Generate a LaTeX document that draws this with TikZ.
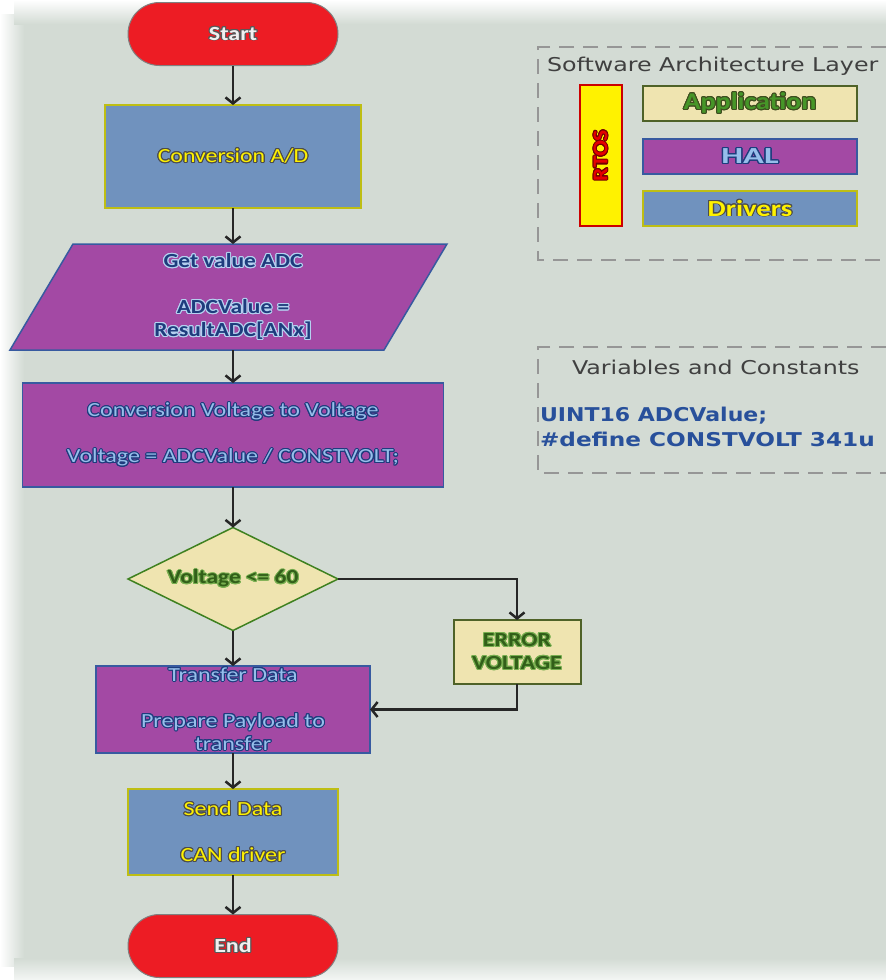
\documentclass[tikz,border=0pt]{standalone}
\usepackage{fontspec}
\usepackage{graphicx}
\setmainfont{Carlito}
\newfontfamily\vfont{DejaVu Sans}
\usepackage[copies]{contour}
\contournumber{16}
\contourlength{0.9pt}
\usetikzlibrary{shapes.geometric,shapes.misc,arrows.meta}

\definecolor{bgpanel}{RGB}{211,219,212}
\definecolor{termred}{RGB}{237,28,36}
\definecolor{steel}{RGB}{112,146,190}
\definecolor{plum}{RGB}{163,73,164}
\definecolor{khaki}{RGB}{239,228,176}
\definecolor{lemon}{RGB}{255,242,0}
\definecolor{lineblue}{RGB}{55,90,160}
\definecolor{olivedge}{RGB}{79,98,40}
\definecolor{yedge}{RGB}{190,190,20}
\definecolor{txtnavy}{RGB}{30,60,125}
\definecolor{txtsky}{RGB}{150,190,235}
\definecolor{txtgreen}{RGB}{50,95,25}
\definecolor{glowgreen}{RGB}{120,175,80}
\definecolor{appgreen}{RGB}{70,150,40}
\definecolor{codeblue}{RGB}{40,80,155}
\definecolor{dashgrey}{RGB}{150,150,150}

% outlined text, and horizontally widened text
\newcommand{\ol}[2]{\contour{#1}{#2}}
\newcommand{\wide}[2][1.2]{\scalebox{#1}[1]{#2}}

\begin{document}
\begin{tikzpicture}[x=1pt,y=-1pt,
  every node/.style={inner sep=0pt, outer sep=0pt},
  terminal/.style={rounded rectangle, fill=termred, draw=gray, line width=1pt,
    minimum width=210pt, minimum height=63pt},
  bluebox/.style={rectangle, fill=steel, draw=yedge, line width=2pt},
  plumbox/.style={rectangle, fill=plum, draw=lineblue, line width=1.5pt},
  khakibox/.style={rectangle, fill=khaki, draw=olivedge, line width=2pt},
  flowtext/.style={align=center, font=\fontsize{20}{23}\selectfont},
  arr/.style={draw=black!85, line width=2.5pt,
    -{Straight Barb[length=6pt,width=15pt,line width=2.5pt]}},
  dashframe/.style={draw=dashgrey, line width=1.5pt, dash pattern=on 15pt off 9pt},
]
\useasboundingbox (0,0) rectangle (886,980);

% panel with soft edges
\fill[white] (0,0) rectangle (886,980);
\fill[bgpanel] (14,14) rectangle (886,966);
\shade[left color=white, right color=bgpanel] (0,14) rectangle (24,966);
\shade[top color=white, bottom color=bgpanel] (14,0) rectangle (886,24);
\shade[top color=bgpanel, bottom color=white!75!bgpanel] (14,958) rectangle (886,980);

% ---------- main flow ----------
\node[terminal] (start) at (233,34)
  {\fontsize{20}{22}\selectfont\bfseries\color{white!88!gray}\wide{\ol{gray!70!black}{Start}}};

\node[bluebox, minimum width=256pt, minimum height=103pt, flowtext, text=lemon] (conv) at (233,156.5)
  {\wide[1.19]{\ol{black!70}{Conversion A/D}}};

% parallelogram
\filldraw[fill=plum, draw=lineblue, line width=1.5pt]
  (73,244) -- (447,244) -- (384,350) -- (10,350) -- cycle;
\node[minimum width=300pt, minimum height=106pt, flowtext, text=txtnavy] (getadc) at (233,297)
  {\bfseries\wide[1.17]{\ol{txtsky!70!white}{Get value ADC}}\\[23pt]
   \bfseries\wide[1.17]{\ol{txtsky!70!white}{ADCValue =}}\\
   \bfseries\wide[1.17]{\ol{txtsky!70!white}{ResultADC[ANx]}}};

\node[plumbox, minimum width=421pt, minimum height=104pt, flowtext, text=txtsky] (volt) at (233,435)
  {\wide{\ol{txtnavy}{Conversion Voltage to Voltage}}\\[23pt]
   \wide{\ol{txtnavy}{Voltage = ADCValue / CONSTVOLT;}}};

\node[diamond, fill=khaki, draw=olivedge!80!green, line width=1.5pt,
      minimum width=210pt, minimum height=103pt] (check) at (233,579) {};
\node[flowtext, text=txtgreen] (checktext) at (check.center)
  {\bfseries\wide[1.17]{\ol{glowgreen}{Voltage <= 60}}};

\node[khakibox, minimum width=127pt, minimum height=64pt, flowtext, text=txtgreen] (err) at (517,652)
  {\bfseries\wide{\ol{glowgreen}{ERROR}}\\ \bfseries\wide{\ol{glowgreen}{VOLTAGE}}};

\node[plumbox, minimum width=274pt, minimum height=87pt, flowtext, text=txtsky] (xfer) at (233,709.5)
  {\wide{\ol{txtnavy}{Transfer Data}}\\[23pt]
   \wide{\ol{txtnavy}{Prepare Payload to}}\\
   \wide{\ol{txtnavy}{transfer}}};

\node[bluebox, minimum width=210pt, minimum height=86pt, flowtext, text=lemon] (send) at (233,832)
  {\wide{\ol{black!70}{Send Data}}\\[23pt]\wide{\ol{black!70}{CAN driver}}};

\node[terminal] (finish) at (233,946)
  {\fontsize{20}{22}\selectfont\bfseries\color{white!88!gray}\wide{\ol{gray!70!black}{End}}};

% connectors
\draw[arr] (start) -- (conv);
\draw[arr] (conv) -- (getadc);
\draw[arr] (getadc) -- (volt);
\draw[arr] (volt) -- (check);
\draw[arr] (check) -- (xfer);
\draw[arr] (check.east) -| (err.north);
\draw[arr] (err.south) |- (xfer.east);
\draw[arr] (xfer) -- (send);
\draw[arr] (send) -- (finish);

% ---------- software architecture layer ----------
\coordinate (swtl) at (538,47);
\coordinate (swbl) at (538,260);
\draw[dashframe] (910,47) -- (swtl) -- (swbl) -- (910,260);
\node[anchor=west, text=black!75, font=\vfont\fontsize{19}{22}\selectfont] (swtitle) at (547,66)
  {\wide[1.25]{Software Architecture Layer}};

\node[rectangle, fill=lemon, draw=red!80!black, line width=2pt,
      minimum width=42pt, minimum height=141pt] (rtos) at (601,155.5) {};
\node[rotate=90, text=red!90!black, font=\fontsize{21}{24}\selectfont\bfseries] (rtostext) at (rtos.center)
  {\wide[1.12]{\ol{red!45!black}{RTOS}}};

\node[khakibox, minimum width=214pt, minimum height=35pt, text=appgreen,
      font=\fontsize{24}{26}\selectfont\bfseries] (app) at (750,103.5)
  {\wide[1.17]{\ol{olivedge!80!black}{Application}}};
\node[plumbox, minimum width=214pt, minimum height=35pt, text=txtsky,
      font=\fontsize{23}{26}\selectfont\bfseries] (hal) at (750,156.5)
  {\wide[1.5]{\ol{txtnavy}{HAL}}};
\node[bluebox, minimum width=214pt, minimum height=35pt, text=lemon,
      font=\fontsize{23}{26}\selectfont\bfseries] (drv) at (750,208.5)
  {\wide[1.25]{\ol{black!70}{Drivers}}};

% ---------- variables and constants ----------
\coordinate (vctl) at (538,347);
\coordinate (vcbl) at (538,473);
\draw[dashframe] (910,347) -- (vctl) -- (vcbl) -- (910,473);
\node[anchor=west, text=black!75, font=\vfont\fontsize{19}{22}\selectfont] (vctitle) at (572,367)
  {\wide[1.25]{Variables and Constants}};
\node[anchor=west, text=codeblue, font=\vfont\fontsize{19}{22}\selectfont\bfseries] (vcline1) at (540,416)
  {\wide[1.16]{UINT16 ADCValue;}};
\node[anchor=west, text=codeblue, font=\vfont\fontsize{19}{22}\selectfont\bfseries] (vcline2) at (540,439)
  {\wide[1.22]{\#define CONSTVOLT 341u}};
\end{tikzpicture}
\end{document}
